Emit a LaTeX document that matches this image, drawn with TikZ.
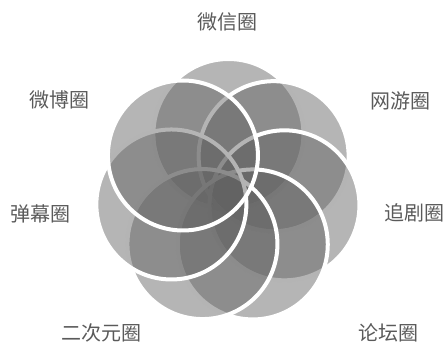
\documentclass[tikz,border=0pt]{standalone}
\usepackage{fontspec}
\newfontfamily\cjk{Noto Sans CJK SC}
\usetikzlibrary{calc}
\definecolor{labelgray}{HTML}{5A5A5A}
\tikzset{
  petal/.style={fill=black!62, fill opacity=0.47, draw=white, line width=4pt},
  lbl/.style={font=\cjk\fontsize{20}{24}\selectfont, text=labelgray, inner sep=0pt}
}
\begin{document}
\begin{tikzpicture}[x=1pt,y=-1pt]
\useasboundingbox (0,0) rectangle (447,344);
\coordinate (ctr) at (228,192);
\foreach \k in {1,...,7}{
  \path[petal] ($(ctr)+({51.4286*\k-141}:58)$) circle[radius=75pt];
}
\node[lbl] (wx) at (227,22) {微信圈};
\node[lbl] (wy) at (400,101) {网游圈};
\node[lbl] (zj) at (414,213) {追剧圈};
\node[lbl] (lt) at (388,333) {论坛圈};
\node[lbl] (ecy) at (101,333) {二次元圈};
\node[lbl] (dm) at (40,214) {弹幕圈};
\node[lbl] (wb) at (59,100) {微博圈};
\end{tikzpicture}
\end{document}
